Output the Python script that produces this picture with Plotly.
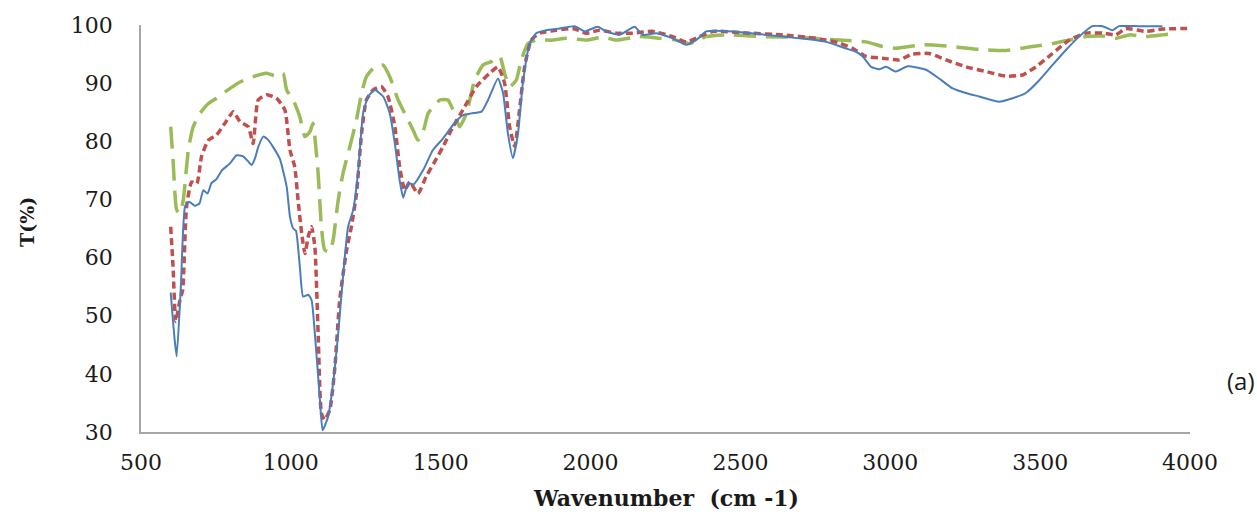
import plotly.graph_objects as go

# ---- data ----
blue_x = [599, 612, 619, 633, 647, 660, 680, 695, 708, 722, 735, 752, 770, 797, 819, 841, 858, 869, 880, 891,
          908, 925, 941, 963, 986, 997, 1008, 1017, 1030, 1041, 1058, 1069, 1080, 1097, 1106, 1124, 1141, 1158, 1174, 1191,
          1208, 1224, 1241, 1258, 1280, 1308, 1330, 1347, 1363, 1375, 1391, 1410, 1441, 1474, 1508, 1541, 1574, 1602, 1636, 1658,
          1691, 1708, 1724, 1741, 1758, 1774, 1797, 1819, 1852, 1897, 1947, 1980, 2024, 2052, 2097, 2147, 2174, 2219, 2274, 2319,
          2352, 2386, 2474, 2586, 2697, 2786, 2850, 2886, 2908, 2936, 2963, 2986, 3019, 3058, 3119, 3163, 3208, 3252, 3297, 3363,
          3408, 3452, 3497, 3541, 3586, 3630, 3674, 3708, 3741, 3763, 3830, 3908]
blue_y = [54.0, 46.0, 43.0, 55.0, 68.8, 69.6, 68.9, 69.3, 71.6, 71.0, 72.8, 73.5, 75.0, 76.2, 77.6, 77.4, 76.5, 75.9, 77.0, 79.0,
          80.8, 80.2, 79.0, 77.0, 72.2, 67.0, 65.0, 64.6, 58.4, 53.3, 53.6, 52.7, 47.0, 35.5, 30.3, 32.6, 38.4, 47.0, 56.7, 65.3,
          68.2, 74.5, 84.8, 87.7, 88.8, 87.7, 84.8, 79.6, 73.3, 70.3, 72.8, 72.6, 75.0, 78.5, 80.5, 82.8, 84.5, 84.8, 85.1, 87.1,
          90.8, 88.3, 81.4, 77.1, 81.4, 90.0, 96.8, 98.6, 99.1, 99.4, 99.8, 98.9, 99.7, 98.9, 98.3, 99.7, 98.3, 98.6, 97.7, 96.6,
          97.4, 98.9, 98.9, 98.3, 97.7, 97.1, 96.0, 95.4, 94.6, 92.8, 92.4, 92.8, 92.0, 92.9, 92.3, 90.8, 89.1, 88.3, 87.7, 86.8,
          87.4, 88.3, 90.5, 93.1, 95.7, 98.0, 99.8, 99.8, 99.1, 99.8, 99.8, 99.8]

red_x = [599, 607, 616, 630, 639, 652, 669, 686, 702, 725, 752, 780, 808, 830, 858, 874, 891, 919, 952, 980,
         997, 1013, 1024, 1036, 1047, 1058, 1069, 1080, 1091, 1102, 1113, 1130, 1147, 1163, 1186, 1202, 1219, 1236, 1252, 1274,
         1302, 1324, 1347, 1363, 1380, 1397, 1424, 1452, 1480, 1508, 1541, 1574, 1619, 1663, 1691, 1713, 1730, 1747, 1763, 1780,
         1802, 1830, 1886, 1941, 1986, 2030, 2086, 2141, 2208, 2274, 2319, 2363, 2408, 2530, 2641, 2752, 2830, 2874, 2919, 2974,
         3030, 3074, 3130, 3186, 3252, 3319, 3386, 3441, 3486, 3541, 3597, 3652, 3708, 3752, 3786, 3852, 3908, 4000]
red_y = [65.3, 58.4, 49.0, 52.7, 54.4, 68.8, 73.0, 72.7, 77.4, 80.2, 81.1, 83.1, 85.1, 83.4, 82.5, 79.6, 87.1, 88.0, 87.4, 85.4,
         78.5, 75.6, 69.9, 64.2, 60.7, 63.6, 65.3, 61.9, 47.0, 33.2, 32.1, 33.8, 41.2, 52.7, 61.3, 65.3, 71.0, 81.4, 87.1, 88.8,
         89.4, 87.7, 82.5, 75.6, 71.6, 73.0, 71.0, 74.0, 76.5, 79.1, 82.5, 85.4, 89.4, 91.7, 92.8, 90.0, 82.5, 79.1, 85.4, 92.8,
         97.4, 98.6, 99.1, 99.4, 98.6, 99.1, 98.6, 98.6, 98.9, 98.0, 97.1, 98.0, 98.9, 98.6, 98.3, 97.7, 96.9, 96.0, 94.6, 94.3,
         94.0, 95.0, 95.1, 94.0, 92.8, 92.0, 91.2, 91.4, 92.8, 95.1, 97.4, 98.6, 98.6, 98.3, 99.4, 98.9, 99.3, 99.4]

green_x = [599, 607, 619, 630, 641, 658, 674, 697, 725, 752, 797, 830, 874, 919, 952, 974, 986, 1008, 1030, 1047,
           1063, 1074, 1080, 1091, 1102, 1113, 1130, 1141, 1158, 1174, 1197, 1219, 1236, 1252, 1280, 1308, 1330, 1358, 1380, 1408,
           1424, 1441, 1458, 1480, 1497, 1524, 1541, 1563, 1586, 1613, 1641, 1669, 1697, 1713, 1730, 1752, 1769, 1791, 1819, 1874,
           1919, 1986, 2041, 2086, 2163, 2230, 2286, 2330, 2386, 2452, 2586, 2697, 2830, 2919, 2974, 3019, 3108, 3208, 3297, 3386,
           3474, 3541, 3597, 3652, 3708, 3752, 3797, 3852, 3908, 3952]
green_y = [82.5, 76.8, 68.2, 67.6, 69.9, 78.5, 82.5, 84.8, 86.5, 87.4, 89.1, 90.2, 91.1, 91.7, 91.2, 91.7, 88.8, 87.1, 84.2, 80.8,
           81.6, 83.1, 80.8, 74.5, 65.3, 61.3, 61.0, 63.0, 69.9, 74.5, 79.1, 83.7, 88.3, 91.1, 92.8, 93.1, 91.1, 87.1, 84.8, 81.9,
           80.2, 81.6, 84.8, 86.2, 87.1, 87.1, 85.4, 82.5, 84.8, 90.5, 93.1, 93.7, 94.6, 91.7, 89.4, 90.5, 94.0, 96.8, 97.4, 97.4,
           97.7, 97.4, 97.9, 97.4, 98.0, 97.7, 97.4, 96.8, 98.0, 98.3, 98.0, 97.9, 97.4, 97.1, 96.3, 96.0, 96.6, 96.3, 95.8, 95.6,
           96.3, 96.8, 97.4, 98.0, 98.1, 97.7, 98.3, 98.0, 98.3, 98.6]

x_ticks = [500, 1000, 1500, 2000, 2500, 3000, 3500, 4000]
y_ticks = [30, 40, 50, 60, 70, 80, 90, 100]

assert len(blue_x) == len(blue_y) and len(red_x) == len(red_y) and len(green_x) == len(green_y)

fig = go.Figure()
fig.add_trace(go.Scatter(x=green_x, y=green_y, mode="lines",
                         line=dict(color="#9BBB59", width=3.5, dash="22px,10px", shape="spline", smoothing=0.5)))
fig.add_trace(go.Scatter(x=red_x, y=red_y, mode="lines",
                         line=dict(color="#C0504D", width=3.5, dash="7px,4px", shape="spline", smoothing=0.5)))
fig.add_trace(go.Scatter(x=blue_x, y=blue_y, mode="lines",
                         line=dict(color="#4A7EBB", width=2, shape="spline", smoothing=0.5)))

tick_font = dict(family="DejaVu Serif", size=22, color="#1a1a1a")

fig.update_layout(
    width=1257, height=512,
    margin=dict(l=141, r=67, t=25, b=80),
    paper_bgcolor="white", plot_bgcolor="white",
    showlegend=False,
    xaxis=dict(range=[500, 4000], tickvals=x_ticks, ticktext=[str(v) for v in x_ticks],
               showgrid=False, zeroline=False, showline=True, linecolor="#a6a6a6", linewidth=1.5,
               ticks="", tickfont=tick_font, ticklabelstandoff=10),
    yaxis=dict(range=[30, 100], tickvals=y_ticks, ticktext=[str(v) for v in y_ticks],
               showgrid=False, zeroline=False, showline=True, linecolor="#a6a6a6", linewidth=1.5,
               ticks="", tickfont=tick_font, ticklabelstandoff=22),
    annotations=[
        dict(text="<b>Wavenumber\u00a0\u00a0(cm -1)</b>", xref="paper", yref="paper", x=0.5005, y=-0.161,
             xanchor="center", yanchor="middle", showarrow=False,
             font=dict(family="DejaVu Serif", size=22, color="#1a1a1a")),
        dict(text="<b>T(%)</b>", xref="paper", yref="paper", x=-0.1087, y=0.516, textangle=-90,
             xanchor="center", yanchor="middle", showarrow=False,
             font=dict(family="DejaVu Serif", size=19, color="#1a1a1a")),
        dict(text="(a)", xref="paper", yref="paper", x=1.0486, y=0.126,
             xanchor="center", yanchor="middle", showarrow=False,
             font=dict(family="Open Sans", size=24, color="#1a1a1a")),
    ],
)

fig.write_html("out.html")
